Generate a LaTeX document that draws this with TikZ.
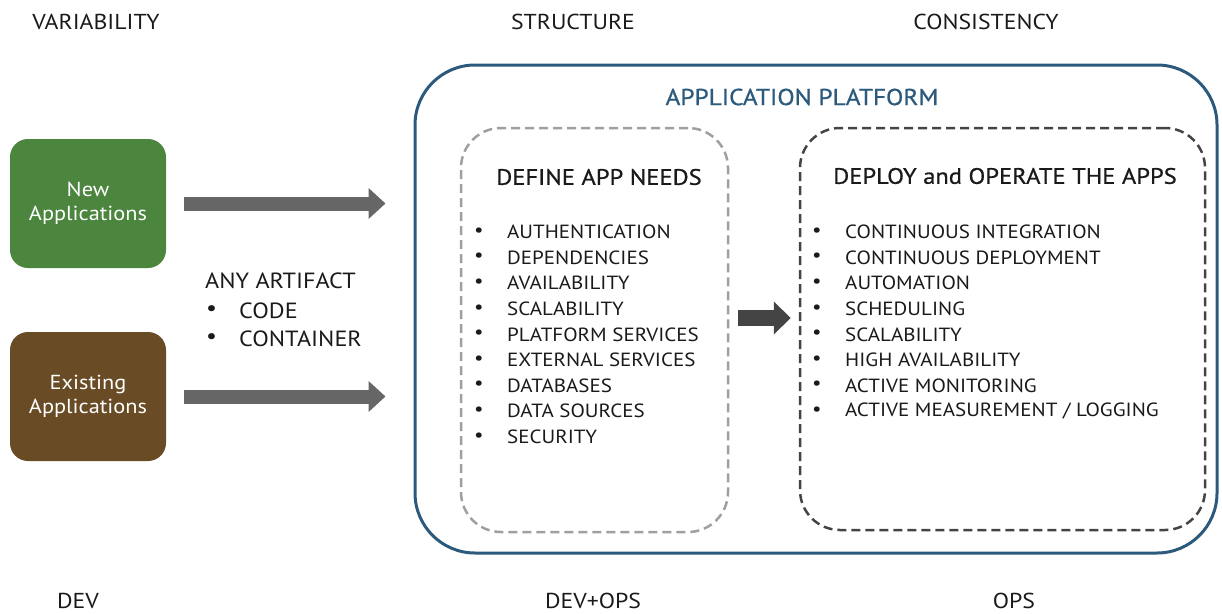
\documentclass[tikz,border=0pt]{standalone}
\usepackage{fontspec}
\setmainfont[FakeStretch=1.1]{PT Sans}
\newfontfamily\titlefont[FakeStretch=1.1,FakeBold=0.8]{PT Sans}
\usetikzlibrary{arrows.meta}
\definecolor{appgreen}{HTML}{4B853E}
\definecolor{appbrown}{HTML}{694C25}
\definecolor{platblue}{HTML}{2C5A7D}
\definecolor{txt}{HTML}{1A1A1A}
\definecolor{arrgray}{HTML}{666666}
\definecolor{arrdark}{HTML}{444444}
\begin{document}
\begin{tikzpicture}[x=1pt,y=-1pt,
  every node/.style={inner sep=0pt,text=txt},
  head/.style={font=\fontsize{21.6}{24}\selectfont},
  appbox/.style={rounded corners=18pt,minimum width=156pt,minimum height=129pt,
    text=white,align=center,font=\fontsize{20.3}{24}\selectfont},
  platform/.style={draw=platblue,line width=3pt,rounded corners=60pt,
    minimum width=802pt,minimum height=488pt},
  needbox/.style={draw=gray!75,dash pattern=on 9pt off 5pt,line width=2.5pt,rounded corners=40pt},
  opbox/.style={draw=arrdark,dash pattern=on 9pt off 5pt,line width=2.5pt,rounded corners=40pt},
  title/.style={font=\titlefont\fontsize{22.3}{26}\selectfont},
  item/.style={anchor=west,font=\fontsize{19.1}{22}\selectfont},
  art/.style={anchor=west,font=\fontsize{22}{26}\selectfont},
  bigarrow/.style={draw=arrgray,line width=14pt,-{Triangle[length=17pt,width=30pt]}},
  midarrow/.style={draw=arrdark,line width=16pt,-{Triangle[length=17pt,width=32pt]}},
]
\useasboundingbox (0,0) rectangle (1222,613);

% headers
\node[head] (hvar) at (96,22) {VARIABILITY};
\node[head] (hstr) at (573,22) {STRUCTURE};
\node[head] (hcon) at (986,22) {CONSISTENCY};
\node[head] (fdev) at (78,601) {DEV};
\node[head] (fdevops) at (593,601) {DEV+OPS};
\node[head] (fops) at (1014,601) {OPS};

% app boxes
\node[appbox,fill=appgreen] (new) at (88,203.5) {New\\Applications};
\node[appbox,fill=appbrown] (exist) at (88,396.5) {Existing\\Applications};

% platform
\node[platform] (plat) at (816,309) {};
\node[font=\titlefont\fontsize{23}{26}\selectfont,text=platblue] (ptitle) at (802,97) {APPLICATION PLATFORM};

\node[needbox,minimum width=267pt,minimum height=404pt] (needs) at (594.5,330) {};
\node[opbox,minimum width=405pt,minimum height=402pt] (ops) at (1002.5,329) {};

\node[title] (ntitle) at (599,177) {DEFINE APP NEEDS};
\node[title] (otitle) at (1005,176) {DEPLOY and OPERATE THE APPS};

% artifact text
\node[art] (any) at (205,281) {ANY ARTIFACT};
\node[art] (b1) at (206,311) {•};
\node[art] (code) at (239,311) {CODE};
\node[art] (b2) at (206,339) {•};
\node[art] (cont) at (239,339) {CONTAINER};

% lists
\foreach \t [count=\i] in {AUTHENTICATION,DEPENDENCIES,AVAILABILITY,SCALABILITY,PLATFORM SERVICES,EXTERNAL SERVICES,DATABASES,DATA SOURCES,SECURITY}{
  \node[item] (nb\i) at (474,{232+25.6*(\i-1)}) {•};
  \node[item] (nt\i) at (507,{232+25.6*(\i-1)}) {\t};
}
\foreach \t [count=\i] in {CONTINUOUS INTEGRATION,CONTINUOUS DEPLOYMENT,AUTOMATION,SCHEDULING,SCALABILITY,HIGH AVAILABILITY,ACTIVE MONITORING,ACTIVE MEASUREMENT / LOGGING}{
  \node[item] (ob\i) at (812,{232+25.6*(\i-1)}) {•};
  \node[item] (ot\i) at (845,{232+25.6*(\i-1)}) {\t};
}

% arrows
\draw[bigarrow] ([xshift=18pt]new.east) -- ([xshift=-28pt]plat.west |- new.east);
\draw[bigarrow] ([xshift=18pt]exist.east) -- ([xshift=-28pt]plat.west |- exist.east);
\coordinate (ma) at ([xshift=9pt]needs.east |- 0,318);
\coordinate (mb) at ([xshift=-8pt]ops.west |- 0,318);
\draw[midarrow] (ma) -- (mb);
\end{tikzpicture}
\end{document}
